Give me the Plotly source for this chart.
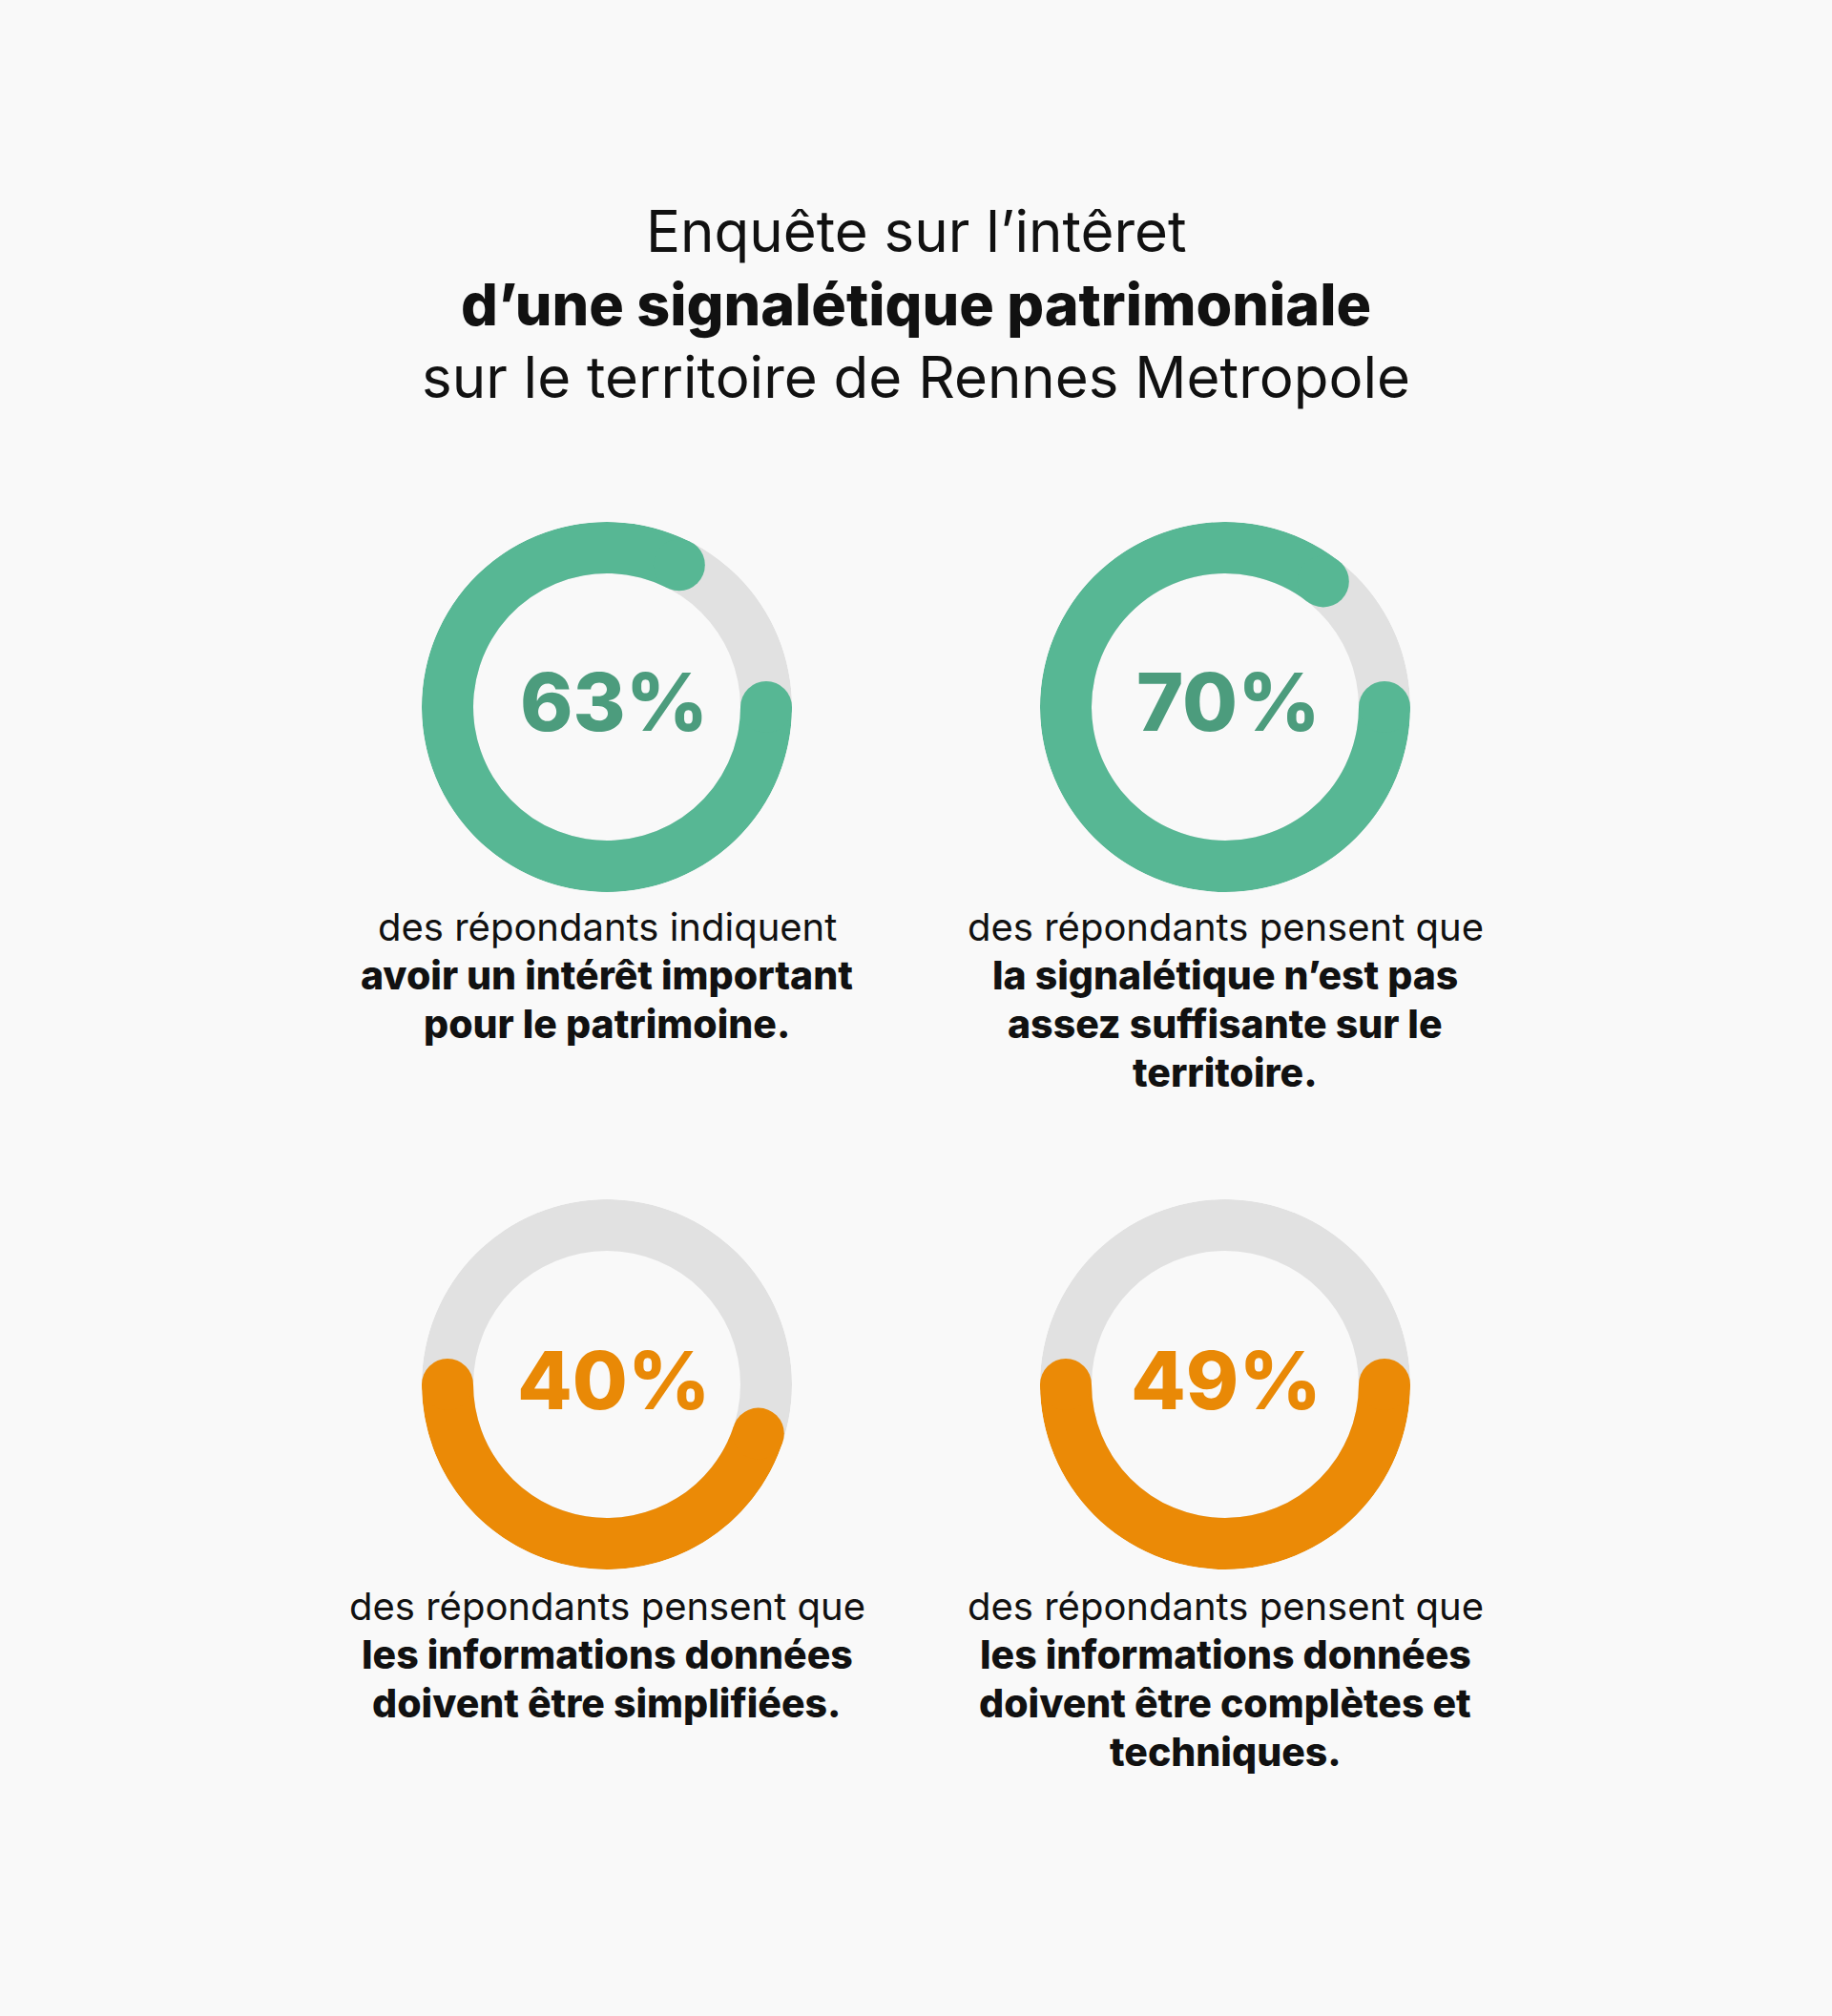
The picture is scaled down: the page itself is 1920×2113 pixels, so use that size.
import plotly.graph_objects as go

# ---------------- data ----------------
percent_values = [63, 70, 40, 49]
# arcs as drawn in the reference (degrees, clockwise from 12 o'clock)
arc_start_deg = [90, 90, 108, 90]
arc_span_deg = [297, 308, 162, 180]
ring_colors = ["#57B794", "#57B794", "#EB8A06", "#EB8A06"]
label_colors = ["#4C9C7D", "#4C9C7D", "#E98906", "#E98906"]

title_lines = [
    "Enquête sur l’intêret",
    "d’une signalétique patrimoniale",
    "sur le territoire de Rennes Metropole",
]
title_bold = [False, True, False]

descriptions = [
    ["des répondants indiquent", "avoir un intérêt important", "pour le patrimoine."],
    ["des répondants pensent que", "la signalétique n’est pas", "assez suffisante sur le", "territoire."],
    ["des répondants pensent que", "les informations données", "doivent être simplifiées."],
    ["des répondants pensent que", "les informations données", "doivent être complètes et", "techniques."],
]

# ---------------- layout constants ----------------
W, H = 1920, 2113
BG = "#F9F9F9"
GRAY = "#E1E1E1"
FONT = "Inter"
R_OUT = 194
R_IN = 140
THICK = R_OUT - R_IN
R_MID = (R_OUT + R_IN) / 2
centers = [(636, 741), (1284, 741), (636, 1451), (1284, 1451)]
label_dx = [7, 3, 7, 1]
desc_top = [971, 971, 1683, 1683]
line_gap = 51

fig = go.Figure()
layout_polars = {}
annotations = []

for i, (cx, cy) in enumerate(centers):
    pname = "polar" if i == 0 else f"polar{i + 1}"
    subplot = pname
    layout_polars[pname] = dict(
        domain=dict(
            x=[(cx - R_OUT) / W, (cx + R_OUT) / W],
            y=[1 - (cy + R_OUT) / H, 1 - (cy - R_OUT) / H],
        ),
        bgcolor="rgba(0,0,0,0)",
        radialaxis=dict(visible=False, range=[0, R_OUT], showgrid=False),
        angularaxis=dict(visible=False, rotation=90, direction="clockwise", showgrid=False),
        hole=0,
    )
    # gray track
    fig.add_trace(go.Barpolar(
        r=[THICK], base=[R_IN], theta=[180], width=[360],
        marker=dict(color=GRAY, line=dict(width=0)),
        subplot=subplot, showlegend=False, hoverinfo="skip",
    ))
    # coloured arc
    start = arc_start_deg[i]
    span = arc_span_deg[i]
    fig.add_trace(go.Barpolar(
        r=[THICK], base=[R_IN], theta=[start + span / 2], width=[span],
        marker=dict(color=ring_colors[i], line=dict(width=0)),
        subplot=subplot, showlegend=False, hoverinfo="skip",
    ))
    # rounded caps
    fig.add_trace(go.Scatterpolar(
        r=[R_MID, R_MID], theta=[start, start + span], mode="markers",
        marker=dict(color=ring_colors[i], size=THICK, line=dict(width=0)),
        cliponaxis=False, subplot=subplot, showlegend=False, hoverinfo="skip",
    ))
    # percentage label
    annotations.append(dict(
        x=(cx + label_dx[i]) / W, y=1 - (cy - 5) / H, xref="paper", yref="paper",
        text=f"{percent_values[i]}%", showarrow=False,
        xanchor="center", yanchor="middle",
        font=dict(family=FONT, size=84, color=label_colors[i], weight=800),
    ))
    # description lines
    for j, line in enumerate(descriptions[i]):
        bold = j > 0
        annotations.append(dict(
            x=cx / W, y=1 - (desc_top[i] + j * line_gap) / H, xref="paper", yref="paper",
            text=line, showarrow=False, xanchor="center", yanchor="middle",
            font=dict(family=FONT, size=41 if bold else 40, color="#111111",
                      weight=800 if bold else 400),
        ))

title_y = [242, 319, 395]
for k, t in enumerate(title_lines):
    annotations.append(dict(
        x=0.5, y=1 - title_y[k] / H, xref="paper", yref="paper",
        text=t, showarrow=False, xanchor="center", yanchor="middle",
        font=dict(family=FONT, size=61 if title_bold[k] else 60, color="#111111",
                  weight=800 if title_bold[k] else 400),
    ))

fig.update_layout(
    width=W, height=H,
    margin=dict(l=0, r=0, t=0, b=0),
    paper_bgcolor=BG, plot_bgcolor=BG,
    annotations=annotations,
    showlegend=False,
    **layout_polars,
)

fig.write_html("out.html", config={"displayModeBar": False})
